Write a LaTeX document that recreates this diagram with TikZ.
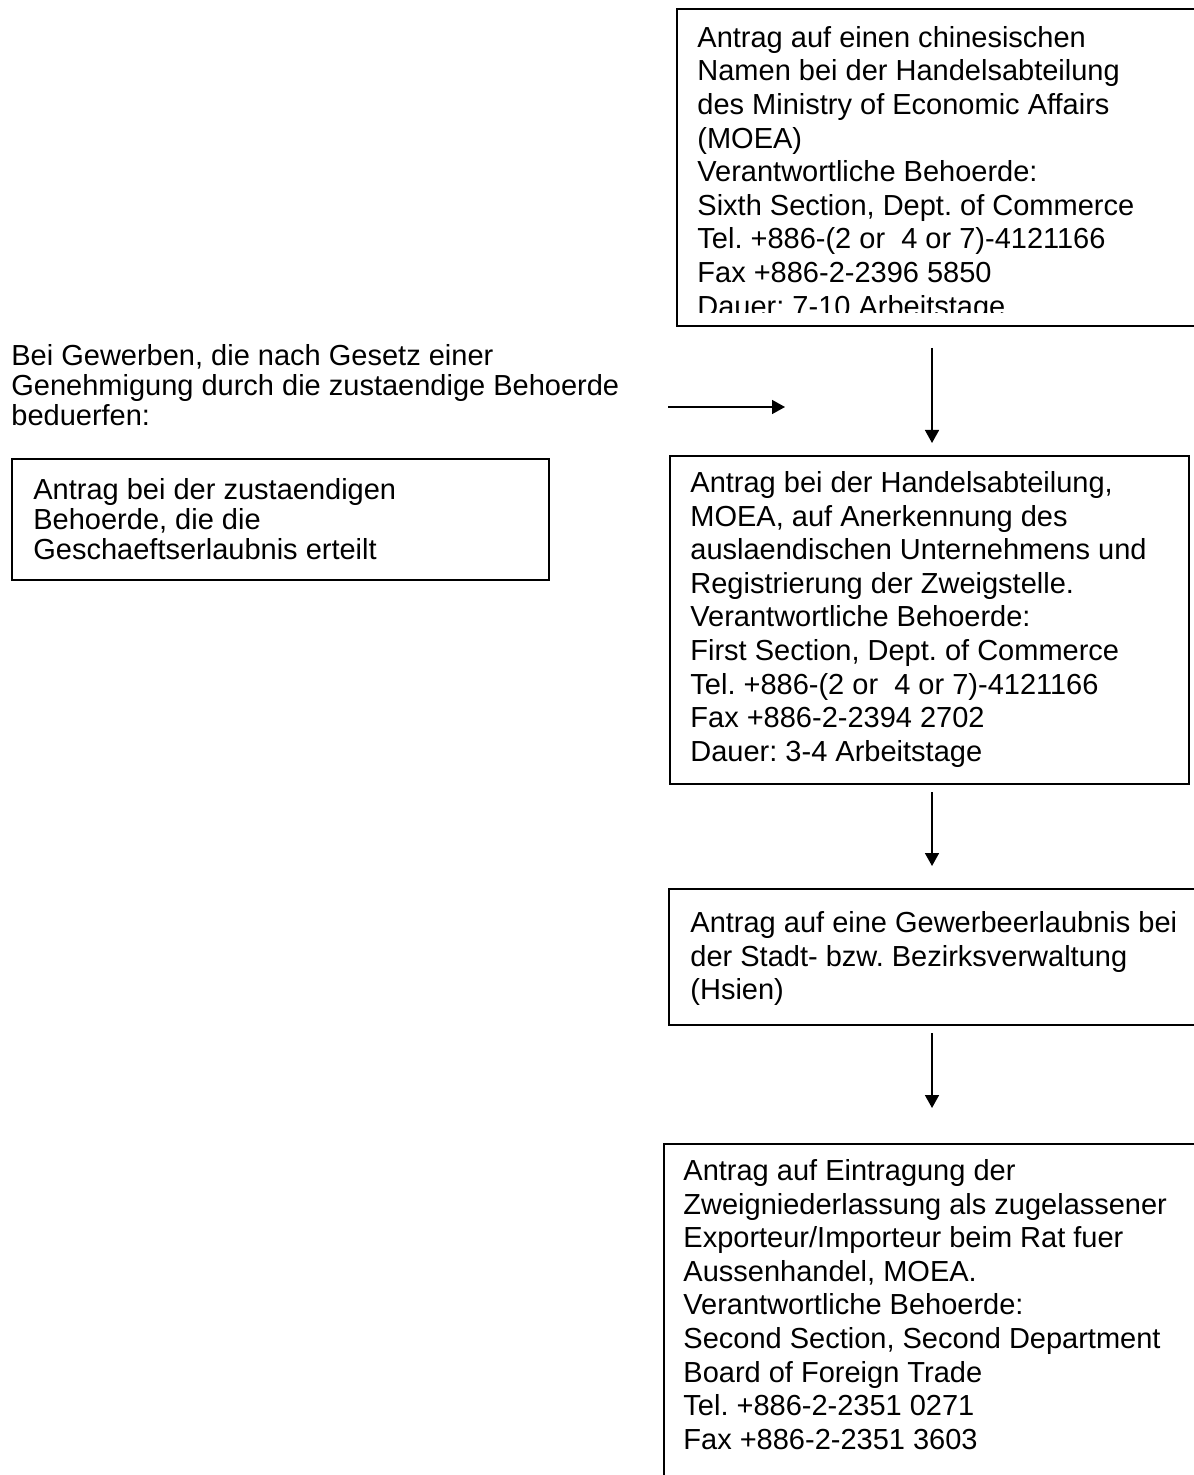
\documentclass[tikz,border=0pt]{standalone}
\usepackage{fontspec}
\setmainfont{Liberation Sans}
\usetikzlibrary{arrows.meta}
\frenchspacing
\begin{document}
\begin{tikzpicture}[x=0.5pt,y=-0.5pt,
  box/.style={draw, line width=1pt, inner sep=0pt, anchor=north west},
  rtxt/.style={anchor=north west, align=left, inner sep=0pt,
    font=\fontsize{14.5}{16.8}\selectfont},
  ltxt/.style={anchor=north west, align=left, inner sep=0pt,
    font=\fontsize{14.5}{15.0}\selectfont},
  arr/.style={line width=0.8pt, -{Triangle[length=6.5pt,width=7pt]}}]
\newcommand{\fl}{\rule{0pt}{11pt}}
\useasboundingbox (0,0) rectangle (1193,1475);
\fill[white] (0,0) rectangle (1193,1475);

% boxes
\node[box, minimum width=269.5pt, minimum height=158.5pt] (b1) at (676,8) {};
\node[box, minimum width=268.5pt, minimum height=60.5pt] (b2) at (11,458) {};
\node[box, minimum width=259.5pt, minimum height=164pt] (b3) at (669,455) {};
\node[box, minimum width=273.5pt, minimum height=68pt] (b4) at (668,888) {};
\node[box, minimum width=276pt, minimum height=178.5pt] (b5) at (663,1143) {};

% texts
\begin{scope}
\clip (676,8) rectangle (1193,313);
\node[rtxt] (t1) at (697,25) {\fl Antrag auf einen chinesischen\\
Namen bei der Handelsabteilung\\
des Ministry of Economic Affairs\\
(MOEA)\\
Verantwortliche Behoerde:\\
Sixth Section, Dept. of Commerce\\
Tel. +886-(2 or\ \ 4 or 7)-4121166\\
Fax +886-2-2396 5850\\
Dauer: 7-10 Arbeitstage};
\end{scope}

\node[ltxt] (h) at (11,343) {\fl Bei Gewerben, die nach Gesetz einer\\
Genehmigung durch die zustaendige Behoerde\\
beduerfen:};

\node[ltxt] (t2) at (33,477) {\fl Antrag bei der zustaendigen\\
Behoerde, die die\\
Geschaeftserlaubnis erteilt};

\node[rtxt] (t3) at (690,470) {\fl Antrag bei der Handelsabteilung,\\
MOEA, auf Anerkennung des\\
auslaendischen Unternehmens und\\
Registrierung der Zweigstelle.\\
Verantwortliche Behoerde:\\
First Section, Dept. of Commerce\\
Tel. +886-(2 or\ \ 4 or 7)-4121166\\
Fax +886-2-2394 2702\\
Dauer: 3-4 Arbeitstage};

\node[rtxt] (t4) at (690,910) {\fl Antrag auf eine Gewerbeerlaubnis bei\\
der Stadt- bzw. Bezirksverwaltung\\
(Hsien)};

\node[rtxt] (t5) at (683,1158) {\fl Antrag auf Eintragung der\\
Zweigniederlassung als zugelassener\\
Exporteur/Importeur beim Rat fuer\\
Aussenhandel, MOEA.\\
Verantwortliche Behoerde:\\
Second Section, Second Department\\
Board of Foreign Trade\\
Tel. +886-2-2351 0271\\
Fax +886-2-2351 3603};

% arrows
\coordinate (h1) at (668,407);
\coordinate (h2) at (785,407);
\coordinate (a1s) at (932,348);
\coordinate (a1e) at (932,443);
\coordinate (a2s) at (932,792);
\coordinate (a2e) at (932,866);
\coordinate (a3s) at (932,1033);
\coordinate (a3e) at (932,1108);
\draw[arr] (h1) -- (h2);
\draw[arr] (a1s) -- (a1e);
\draw[arr] (a2s) -- (a2e);
\draw[arr] (a3s) -- (a3e);
\end{tikzpicture}
\end{document}
